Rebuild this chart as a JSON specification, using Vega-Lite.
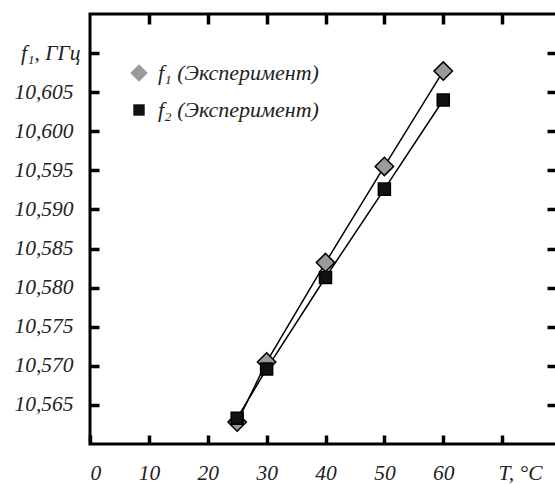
{
  "$schema": "https://vega.github.io/schema/vega-lite/v6.json",
  "width": 471,
  "height": 430,
  "autosize": {"type": "none"},
  "padding": {"left": 90, "top": 14, "right": 0, "bottom": 41},
  "background": "white",
  "config": {
    "view": {"stroke": "black", "strokeWidth": 3},
    "axis": {
      "grid": false,
      "domain": false,
      "tickColor": "black",
      "tickWidth": 3.5,
      "tickSize": -9,
      "labelFont": "Liberation Serif",
      "labelFontStyle": "italic",
      "labelFontSize": 21.5,
      "labelColor": "#222",
      "titleFont": "Liberation Serif",
      "titleFontStyle": "italic",
      "titleFontWeight": "normal",
      "titleFontSize": 21.5,
      "titleColor": "#222"
    }
  },
  "data": {
    "values": [
      {"T": 25, "f": 10.5628, "series": "f₁ (Эксперимент)"},
      {"T": 30, "f": 10.5705, "series": "f₁ (Эксперимент)"},
      {"T": 40, "f": 10.5832, "series": "f₁ (Эксперимент)"},
      {"T": 50, "f": 10.5955, "series": "f₁ (Эксперимент)"},
      {"T": 60, "f": 10.6077, "series": "f₁ (Эксперимент)"},
      {"T": 25, "f": 10.5633, "series": "f₂ (Эксперимент)"},
      {"T": 30, "f": 10.5696, "series": "f₂ (Эксперимент)"},
      {"T": 40, "f": 10.5813, "series": "f₂ (Эксперимент)"},
      {"T": 50, "f": 10.5926, "series": "f₂ (Эксперимент)"},
      {"T": 60, "f": 10.6040, "series": "f₂ (Эксперимент)"}
    ]
  },
  "layer": [
    {
      "mark": {"type": "line", "color": "black", "strokeWidth": 1.5},
      "encoding": {
        "x": {
          "field": "T",
          "type": "quantitative",
          "scale": {"domain": [0, 80], "nice": false, "zero": false},
          "axis": {
            "orient": "bottom",
            "values": [0, 10, 20, 30, 40, 50, 60, 70],
            "labelExpr": "datum.value == 70 ? '' : datum.label",
            "labelFont": "Liberation Serif",
            "labelFontStyle": "italic",
            "labelPadding": 27,
            "title": "T, °C",
            "titleX": 408,
            "titleY": 29,
            "titleAlign": "left",
            "titleBaseline": "middle",
            "titleAnchor": null
          }
        },
        "y": {
          "field": "f",
          "type": "quantitative",
          "scale": {"domain": [10.56, 10.615], "nice": false, "zero": false},
          "axis": {
            "orient": "left",
            "values": [10.565, 10.57, 10.575, 10.58, 10.585, 10.59, 10.595, 10.6, 10.605, 10.61],
            "labelExpr": "abs(datum.value - 10.61) < 0.0001 ? '' : replace(format(datum.value, '.3f'), '.', ',')",
            "labelFont": "Liberation Serif",
            "labelFontStyle": "italic",
            "labelPadding": 26,
            "title": "f₁, ГГц",
            "titleAngle": 0,
            "titleX": -10,
            "titleY": 39,
            "titleAlign": "right",
            "titleBaseline": "middle",
            "titleAnchor": null
          }
        },
        "detail": {"field": "series"}
      }
    },
    {
      "mark": {"type": "point", "filled": true, "stroke": "black", "strokeWidth": 1.5, "opacity": 1},
      "encoding": {
        "x": {"field": "T", "type": "quantitative", "axis": {"orient": "top", "values": [10, 20, 30, 40, 50, 60, 70], "labels": false, "title": null, "tickSize": -10}},
        "y": {"field": "f", "type": "quantitative", "axis": {"orient": "right", "values": [10.565, 10.57, 10.575, 10.58, 10.585, 10.59, 10.595, 10.6, 10.605, 10.61], "labels": false, "title": null, "tickSize": -14}},
        "shape": {
          "field": "series",
          "type": "nominal",
          "scale": {"range": ["M0,-1.3L1.3,0L0,1.3L-1.3,0Z", "M-0.85,-0.85H0.85V0.85H-0.85Z"]},
          "legend": {
            "orient": "none",
            "legendX": 38,
            "legendY": 48,
            "title": null,
            "labelFont": "Liberation Serif",
            "labelFontStyle": "italic",
            "labelFontSize": 22,
            "labelColor": "#222",
            "labelLimit": 400,
            "symbolStrokeColor": "black",
            "symbolStrokeWidth": 1.5,
            "symbolSize": 180,
            "symbolOpacity": 1,
            "rowPadding": 14,
            "labelOffset": 8,
            "encode": {
              "symbols": {"update": {"stroke": {"value": "black"}, "strokeWidth": {"value": 1.5}}}
            }
          }
        },
        "fill": {
          "field": "series",
          "type": "nominal",
          "scale": {"range": ["#9a9a9a", "#111111"]},
          "legend": null
        },
        "size": {"value": 200}
      }
    }
  ],
  "resolve": {"axis": {"x": "independent", "y": "independent"}}
}
